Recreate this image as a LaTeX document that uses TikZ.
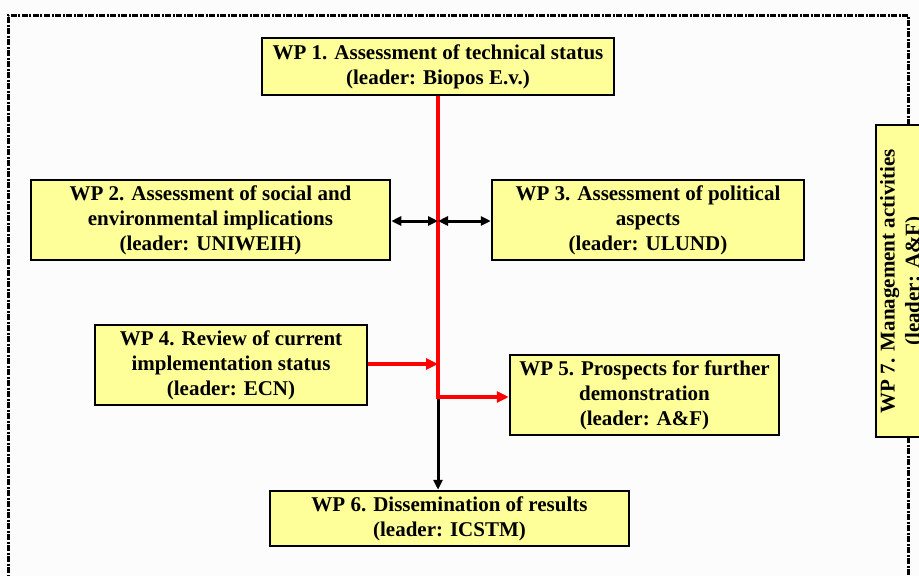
\documentclass[tikz,border=0pt]{standalone}
\usepackage{fontspec}
\setmainfont{Liberation Serif}
\usetikzlibrary{arrows.meta}
\definecolor{boxfill}{HTML}{FFFF99}
\definecolor{redline}{HTML}{FF0000}
\tikzset{
  wpbox/.style={draw=black, line width=2.5pt, fill=boxfill, inner sep=0pt, align=center,
    font=\fontsize{21}{25}\selectfont\bfseries},
  redarrow/.style={draw=redline, line width=3.5pt, -{Triangle[length=12pt,width=11pt]}},
  blackarrow/.style={draw=black, line width=3pt, -{Triangle[length=10pt,width=9pt]}},
  dblarrow/.style={draw=black, line width=3pt, {Triangle[length=10pt,width=9pt]}-{Triangle[length=10pt,width=9pt]}},
  frame/.style={draw=black, line width=3pt, dash pattern=on 6pt off 1.5pt on 2pt off 1.5pt},
}
\begin{document}
\begin{tikzpicture}[x=1pt,y=-1pt]
\useasboundingbox (0,0) rectangle (919,576);
\fill[white!99!black] (0,0) rectangle (919,576);
\clip (0,0) rectangle (919,576);
% frame
\draw[frame] (908,125) -- (908,15) -- (8,15) -- (8,600);
\draw[frame] (908,437) -- (908,600);
% boxes
\node[wpbox, minimum width=352pt, minimum height=57pt] (wp1) at (438,66.5)
  {WP 1. Assessment of technical status\\(leader: Biopos E.v.)};
\node[wpbox, minimum width=359pt, minimum height=80pt] (wp2) at (210.5,220)
  {WP 2. Assessment of social and\\environmental implications\\(leader: UNIWEIH)};
\node[wpbox, minimum width=312pt, minimum height=80pt] (wp3) at (648,220)
  {WP 3. Assessment of political\\aspects\\(leader: ULUND)};
\node[wpbox, minimum width=272pt, minimum height=80pt] (wp4) at (231,365)
  {WP 4. Review of current\\implementation status\\(leader: ECN)};
\node[wpbox, minimum width=269pt, minimum height=80pt] (wp5) at (644.5,395)
  {WP 5. Prospects for further\\demonstration\\(leader: A\&F)};
\node[wpbox, minimum width=359pt, minimum height=55pt] (wp6) at (449.5,518.5)
  {WP 6. Dissemination of results\\(leader: ICSTM)};
\node[wpbox, rotate=90, minimum width=312pt, minimum height=52pt] (wp7) at (902,281)
  {WP 7. Management activities\\(leader: A\&F)};
% junctions
\coordinate (j1) at (438,221);
\coordinate (j2) at (438,364);
\coordinate (j3) at (438,397);
% connectors
\draw[blackarrow] (j3) -- (j3 |- wp6.north);
\draw[redarrow] (wp1.south) -- (j3) -- (wp5.west |- j3);
\draw[redarrow] (wp4.east |- j2) -- (j2);
\draw[dblarrow] (wp2.east |- j1) -- (j1);
\draw[dblarrow] (j1) -- (wp3.west |- j1);
\end{tikzpicture}
\end{document}
